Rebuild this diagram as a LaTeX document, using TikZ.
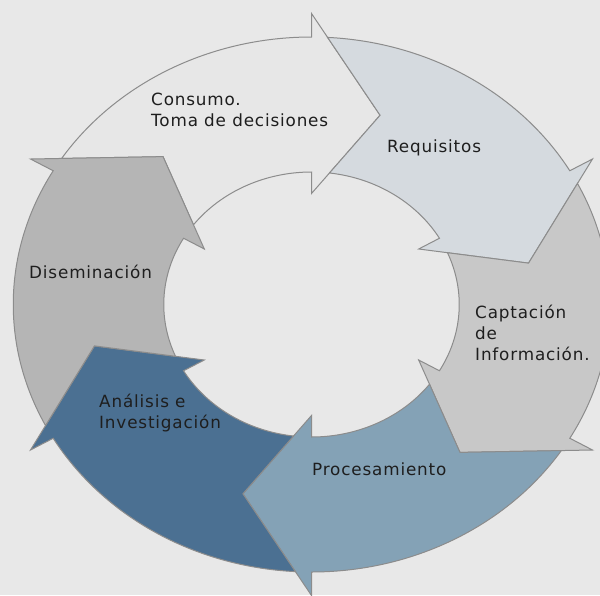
\documentclass[tikz,border=0pt]{standalone}
\usepackage{fontspec}
\setmainfont{DejaVu Sans}[LetterSpace=5]
\definecolor{bgc}{HTML}{E8E8E8}
\definecolor{consumoc}{HTML}{E7E7E7}
\definecolor{requisc}{HTML}{D5DADF}
\definecolor{captc}{HTML}{C8C8C8}
\definecolor{procc}{HTML}{84A2B6}
\definecolor{analc}{HTML}{4B7092}
\definecolor{disemc}{HTML}{B5B5B5}
\definecolor{edgec}{HTML}{8C8C8C}
\definecolor{txtc}{HTML}{1E1E1E}
\tikzset{
  seg/.style={draw=edgec, line width=1pt, line join=miter},
  lbl/.style={anchor=base west, inner sep=0pt, text=txtc, font=\fontsize{16.8}{21}\selectfont}
}
% #1 = base angle of the arrow head, #2 = fill colour
\newcommand{\segarrow}[2]{%
  \pgfmathsetmacro{\Bt}{#1+56.906}%
  \pgfmathsetmacro{\Bn}{#1+42}%
  \pgfmathsetmacro{\Bi}{#1+53.012}%
  \pgfmathsetmacro{\Bh}{#1-18}%
  \filldraw[seg, fill=#2] (\Bt:267.5) arc[start angle=\Bt, end angle=#1, radius=267.5]
    -- (#1:291) -- (\Bh:199) -- (#1:111) -- (#1:132.5)
    arc[start angle=#1, end angle=\Bi, radius=132.5] -- (\Bn:199) -- cycle;
}
\begin{document}
\begin{tikzpicture}[x=1pt,y=1pt]
\useasboundingbox (0,0) rectangle (600,-595);
\fill[bgc] (0,0) rectangle (600,-595);
\begin{scope}
  \clip (0,0) rectangle (600,-595);
  \begin{scope}[shift={(311.5,-304.5)}, xscale=1.115]
    \segarrow{90}{consumoc}
    \segarrow{30}{requisc}
    \segarrow{-30}{captc}
    \segarrow{-90}{procc}
    \segarrow{-150}{analc}
    \segarrow{150}{disemc}
  \end{scope}
\end{scope}
\node[lbl] (consumo) at (151,-105) {\begin{tabular}[t]{@{}l@{}}Consumo.\\Toma de decisiones\end{tabular}};
\node[lbl] (requisitos) at (387,-152) {Requisitos};
\node[lbl] (captacion) at (475,-318) {\begin{tabular}[t]{@{}l@{}}Captación\\de\\Información.\end{tabular}};
\node[lbl] (procesamiento) at (312,-475) {Procesamiento};
\node[lbl] (analisis) at (99,-407) {\begin{tabular}[t]{@{}l@{}}Análisis e\\Investigación\end{tabular}};
\node[lbl] (diseminacion) at (29,-278) {Diseminación};
\end{tikzpicture}
\end{document}
